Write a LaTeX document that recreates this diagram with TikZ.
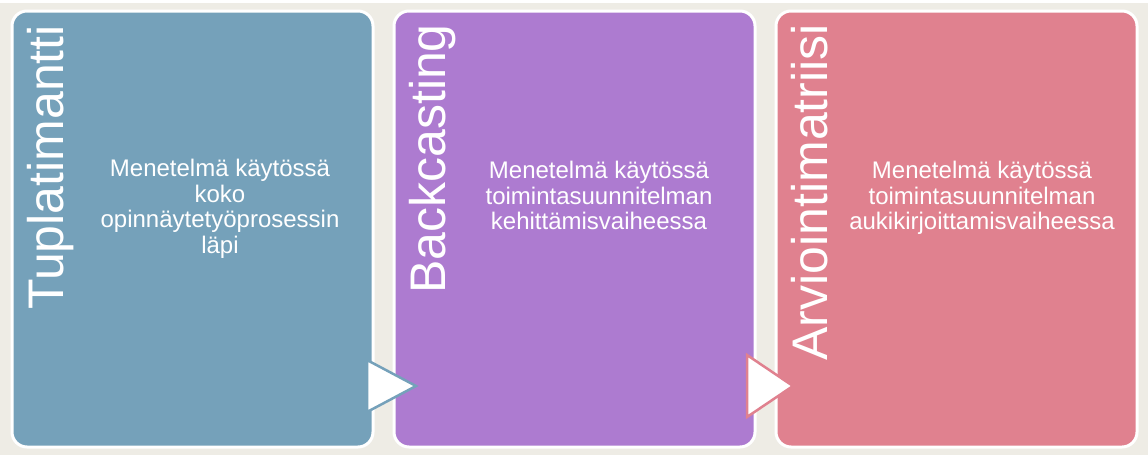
\documentclass[tikz,border=0pt]{standalone}
\usepackage{fontspec}
\setmainfont{Liberation Sans}
\definecolor{bg}{HTML}{EEECE5}
\definecolor{cblue}{HTML}{75A1BA}
\definecolor{cpurple}{HTML}{AD7BD0}
\definecolor{cpink}{HTML}{E0818F}
\begin{document}
\begin{tikzpicture}[x=1pt,y=-1pt,
  panel/.style={draw=white, line width=3pt, rounded corners=15pt, minimum width=361pt, minimum height=436pt, inner sep=0pt, anchor=north west},
  title/.style={rotate=90, anchor=base east, text=white, font=\fontsize{50}{50}\selectfont, inner sep=0pt},
  body/.style={text=white, align=center, font=\fontsize{24}{25.5}\selectfont, anchor=north, inner sep=0pt},
  tri/.style={fill=white, line width=2.5pt, line join=miter}]
\useasboundingbox (0,0) rectangle (1148,455);
\fill[bg] (0,0) rectangle (1148,455);
\fill[white] (0,0) rectangle (1148,3);
\node[panel, fill=cblue] (p1) at (10.5,9.5) {};
\node[panel, fill=cpurple] (p2) at (392.5,9.5) {};
\node[panel, fill=cpink] (p3) at (774.5,9.5) {};
\node[title] (t1) at (63,25) {Tuplatimantti};
\node[title] (t2) at (445,24) {Backcasting};
\node[title] (t3) at (827,24) {Arviointimatriisi};
\node[body] (b1) at (220,159) {Menetelmä käytössä\\koko\\opinnäytetyöprosessin\\läpi};
\node[body] (b2) at (599,161) {Menetelmä käytössä\\toimintasuunnitelman\\kehittämisvaiheessa};
\node[body] (b3) at (982,161) {Menetelmä käytössä\\toimintasuunnitelman\\aukikirjoittamisvaiheessa};
\draw[tri, draw=cblue] (367,360) -- (367,412) -- (416,386) -- cycle;
\draw[tri, draw=cpink] (747,355) -- (747,417) -- (793,386) -- cycle;
\end{tikzpicture}
\end{document}
